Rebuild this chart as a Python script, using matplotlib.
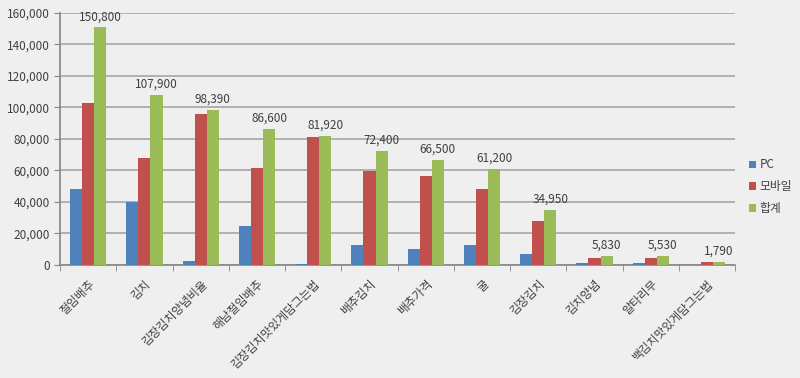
"""
Kimchi-related search volume by keyword: PC, mobile and total, as grouped bars.
"""

import matplotlib
matplotlib.use("Agg")
import matplotlib.pyplot as plt
import numpy as np
from matplotlib.ticker import FuncFormatter

plt.rcParams["font.family"] = ["Noto Sans CJK KR", "DejaVu Sans"]

keywords = ["절임배추", "김치", "김장김치양념비율", "해남절임배추", "김장김치맛있게담그는법",
            "배추김치", "배추가격", "굴", "김장김치", "김치양념", "알타리무", "백김치맛있게담그는법"]
pc = [48000, 40000, 2400, 25000, 900, 12500, 10000, 12700, 6800, 1300, 1300, 100]
mobile = [102800, 67900, 95990, 61600, 81020, 59900, 56500, 48500, 28150, 4530, 4230, 1690]
total = [150800, 107900, 98390, 86600, 81920, 72400, 66500, 61200, 34950, 5830, 5530, 1790]

series_names = ["PC", "모바일", "합계"]
colors = ["#4f81bd", "#c0504d", "#9bbb59"]
BG = "#efefef"
TEXT = "#404040"


def plot(out_path="out.png"):
    fig = plt.figure(figsize=(8, 3.78), dpi=100, facecolor=BG)
    ax = fig.add_axes([0.075, 0.299, 0.844, 0.667], facecolor=BG)

    x = np.arange(len(keywords))
    w = 0.215
    for i, (vals, name, c) in enumerate(zip([pc, mobile, total], series_names, colors)):
        bars = ax.bar(x + (i - 1) * w, vals, w, color=c, label=name, zorder=3)
        if name == "합계":
            ax.bar_label(bars, labels=[f"{v:,}" for v in vals], padding=3,
                         fontsize=8.5, color=TEXT, zorder=4)

    ax.set_ylim(0, 160000)
    ax.set_xlim(-0.5, len(keywords) - 0.5)
    ax.set_yticks(np.arange(0, 160001, 20000))
    ax.yaxis.set_major_formatter(FuncFormatter(lambda v, _: f"{int(v):,}"))
    ax.grid(axis="y", color="#a6a6a6", linewidth=1.2, zorder=0)

    # category labels at the centers, tick marks between the groups
    ax.set_xticks(x)
    ax.set_xticklabels(keywords, rotation=45, ha="right", rotation_mode="anchor",
                       fontsize=8.5, color=TEXT)
    ax.tick_params(axis="x", length=0, pad=9)
    ax.set_xticks(np.arange(-0.5, len(keywords), 1), minor=True)
    ax.tick_params(axis="x", which="minor", length=4, color="#868686")
    ax.tick_params(axis="y", length=4, color="#868686", labelsize=8.5, labelcolor=TEXT)

    for side in ["top", "right"]:
        ax.spines[side].set_visible(False)
    for side in ["left", "bottom"]:
        ax.spines[side].set_color("#868686")
        ax.spines[side].set_linewidth(1.2)

    ax.legend(loc="center left", bbox_to_anchor=(1.005, 0.31), frameon=False,
              fontsize=8.5, handlelength=0.6, handleheight=0.6, handletextpad=0.3,
              labelspacing=0.75, labelcolor=TEXT)

    fig.savefig(out_path, dpi=100, facecolor=BG)


if __name__ == "__main__":
    plot()
